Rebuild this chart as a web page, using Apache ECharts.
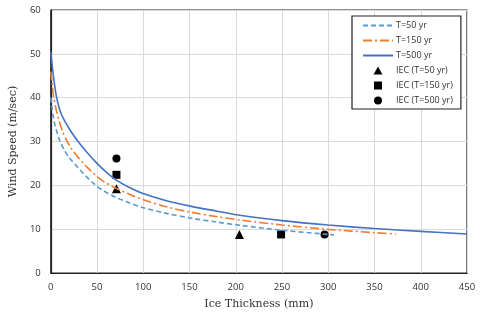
<!DOCTYPE html>
<html>
<head>
<meta charset="utf-8">
<script src="https://cdn.jsdelivr.net/npm/echarts@6/dist/echarts.min.js"></script>
<style>
  html, body { margin: 0; padding: 0; background: #fff; }
  #chart { width: 481px; height: 325px; }
</style>
</head>
<body>
<div id="chart"></div>
<script>
// Design wind speed vs. ice thickness for three return periods
const curveT50 = [[0, 40], [1.5, 37.5], [3, 35.3], [6, 32.6], [10, 30.1], [15, 27.9], [20, 26.3], [30, 23.9], [38, 22.1], [46, 20.5], [56, 18.9], [70, 17.3], [85, 16.0], [99, 14.95], [125, 13.6], [152, 12.5], [180, 11.6], [206, 10.85], [250, 9.75], [300, 8.8], [306, 8.7]];
const curveT150 = [[0, 46], [1.5, 43], [3, 40.4], [6, 37.1], [9, 34.7], [13, 32.2], [17, 30.3], [22, 28.5], [28, 26.8], [39, 24.2], [48, 22.4], [57, 20.9], [70, 19.4], [85, 17.95], [99, 16.8], [125, 15.1], [152, 13.85], [180, 12.85], [206, 12.05], [250, 10.95], [300, 9.95], [350, 9.2], [373, 8.9]];
const curveT500 = [[0, 50.5], [2, 46.5], [4, 43.1], [6, 40.4], [9, 37.7], [12, 36.0], [15, 34.7], [20, 32.9], [25, 31.3], [31, 29.6], [40, 27.3], [50, 25.0], [60, 23.0], [70, 21.3], [85, 19.5], [99, 18.2], [125, 16.5], [152, 15.2], [180, 14.1], [206, 13.1], [250, 11.95], [300, 10.95], [350, 10.15], [400, 9.5], [450, 8.9]];

// IEC reference values
const iecT50 = [[71, 19.2], [204, 8.8]];
const iecT150 = [[71, 22.4], [249, 8.8]];
const iecT500 = [[71, 26.1], [296, 8.8]];

const xTicks = { min: 0, max: 450, step: 50 };
const yTicks = { min: 0, max: 60, step: 10 };

const sansFont = 'Open Sans';
const serifFont = 'DejaVu Serif';

// Marker glyphs for the legend (kept square so they are not stretched)
const triangleIcon = 'path://M5,0 L10,9 L0,9 Z';
const squareIcon = 'path://M0,0 L9,0 L9,9 L0,9 Z';
const circleIcon = 'path://M4.5,0 A4.5,4.5 0 1,1 4.49,0 Z';

const hiddenSymbol = { opacity: 0 };

const chart = echarts.init(document.getElementById('chart'), null, { renderer: 'canvas' });

chart.setOption({
  animation: false,
  backgroundColor: '#fff',
  grid: {
    left: 48, right: 14, top: 10, bottom: 52,
    show: true, borderColor: '#222', borderWidth: 1.2, backgroundColor: 'transparent'
  },
  legend: {
    orient: 'vertical',
    left: 352, top: 16,
    padding: [5, 8, 4, 10],
    itemWidth: 30, itemHeight: 8, itemGap: 6,
    backgroundColor: '#fff',
    borderColor: '#222', borderWidth: 1.2,
    symbolKeepAspect: true,
    textStyle: { fontFamily: sansFont, fontSize: 9, color: '#333', padding: [0, 0, 0, -2] },
    data: [
      { name: 'T=50 yr', itemStyle: hiddenSymbol },
      { name: 'T=150 yr', itemStyle: hiddenSymbol },
      { name: 'T=500 yr', itemStyle: hiddenSymbol },
      { name: 'IEC (T=50 yr)', icon: triangleIcon },
      { name: 'IEC (T=150 yr)', icon: squareIcon },
      { name: 'IEC (T=500 yr)', icon: circleIcon }
    ]
  },
  xAxis: {
    type: 'value',
    min: xTicks.min, max: xTicks.max, interval: xTicks.step,
    name: 'Ice Thickness (mm)',
    nameLocation: 'middle', nameGap: 26,
    nameTextStyle: { fontFamily: serifFont, fontSize: 11, color: '#333' },
    axisLine: { show: true, lineStyle: { color: '#222', width: 1.2 } },
    axisTick: { show: false },
    axisLabel: { fontFamily: sansFont, fontSize: 9.5, color: '#333', margin: 9 },
    splitLine: { show: true, lineStyle: { color: '#d9d9d9', width: 1 } }
  },
  yAxis: {
    type: 'value',
    min: yTicks.min, max: yTicks.max, interval: yTicks.step,
    name: 'Wind Speed (m/sec)',
    nameLocation: 'middle', nameGap: 25,
    nameTextStyle: { fontFamily: serifFont, fontSize: 11, color: '#333' },
    axisLine: { show: true, lineStyle: { color: '#222', width: 1.2 } },
    axisTick: { show: false },
    axisLabel: { fontFamily: sansFont, fontSize: 9.5, color: '#333', margin: 10 },
    splitLine: { show: true, lineStyle: { color: '#d9d9d9', width: 1 } }
  },
  series: [
    {
      name: 'T=50 yr', type: 'line', data: curveT50, smooth: 0.3,
      symbol: 'none', color: '#5b9bd5',
      lineStyle: { color: '#5b9bd5', width: 1.6, type: [5, 3] }
    },
    {
      name: 'T=150 yr', type: 'line', data: curveT150, smooth: 0.3,
      symbol: 'none', color: '#ed7d31',
      lineStyle: { color: '#ed7d31', width: 1.6, type: [9, 3, 2, 3] }
    },
    {
      name: 'T=500 yr', type: 'line', data: curveT500, smooth: 0.3,
      symbol: 'none', color: '#4472c4',
      lineStyle: { color: '#4472c4', width: 1.6 }
    },
    {
      name: 'IEC (T=50 yr)', type: 'scatter', data: iecT50,
      symbol: 'triangle', symbolSize: 9, itemStyle: { color: '#000', opacity: 1 }
    },
    {
      name: 'IEC (T=150 yr)', type: 'scatter', data: iecT150,
      symbol: 'rect', symbolSize: 8, itemStyle: { color: '#000', opacity: 1 }
    },
    {
      name: 'IEC (T=500 yr)', type: 'scatter', data: iecT500,
      symbol: 'circle', symbolSize: 8, itemStyle: { color: '#000', opacity: 1 }
    }
  ]
});
</script>
</body>
</html>
